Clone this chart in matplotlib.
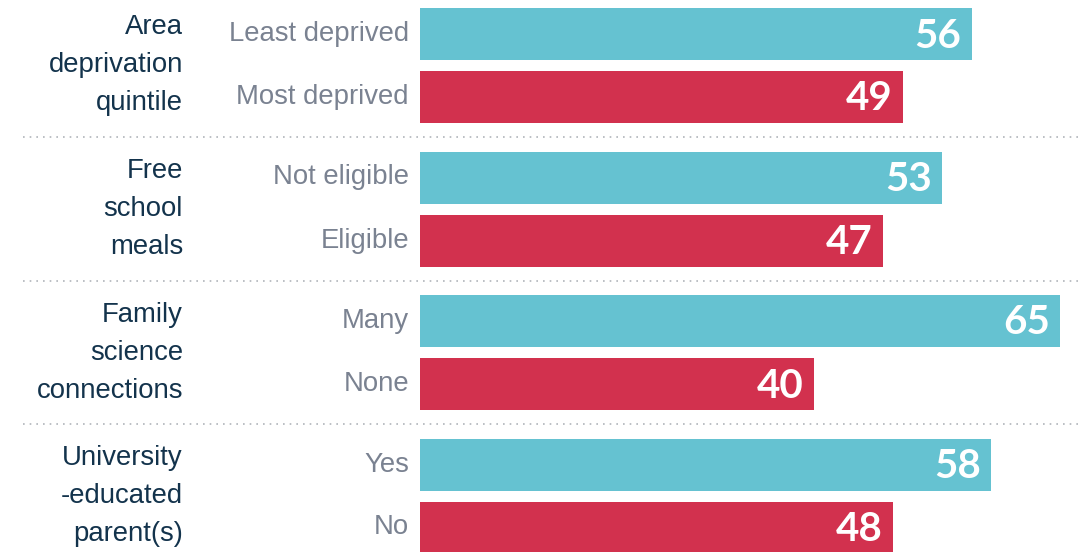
import matplotlib
matplotlib.use("Agg")
import matplotlib.pyplot as plt

groups = ["Area\ndeprivation\nquintile", "Free\nschool\nmeals",
          "Family\nscience\nconnections", "University\n-educated\nparent(s)"]
top_labels = ["Least deprived", "Not eligible", "Many", "Yes"]
bottom_labels = ["Most deprived", "Eligible", "None", "No"]
top_values = [56, 53, 65, 58]
bottom_values = [49, 47, 40, 48]

teal = "#65C2D1"
red = "#D2314E"
navy = "#13334C"
grey = "#7A8291"

W, H = 1081, 552
px = 9.85          # pixels per unit
x0 = 420           # pixel where zero sits
fig = plt.figure(figsize=(W / 100, H / 100), dpi=100)
ax = fig.add_axes([0, 0, 1, 1])
ax.set_xlim(-x0 / px, (W - x0) / px)
ax.set_ylim(H, 0)
ax.axis("off")

spacing = 143.5
first = 65.5
offset = 31.5
bar_h = 52

for g in range(len(groups)):
    c = first + spacing * g
    y_top = c - offset
    y_bot = c + offset
    ax.barh(y_top, top_values[g], height=bar_h, color=teal)
    ax.barh(y_bot, bottom_values[g], height=bar_h, color=red)

    for y, v in [(y_top, top_values[g]), (y_bot, bottom_values[g])]:
        ax.text(v - 10 / px, y + 2, str(v), color="white", fontsize=29,
                fontweight="bold", family="Lato", ha="right", va="center")

    ax.text((409 - x0) / px, y_top, top_labels[g], color=grey, fontsize=19.8,
            family="Liberation Sans", ha="right", va="center")
    ax.text((409 - x0) / px, y_bot, bottom_labels[g], color=grey, fontsize=19.8,
            family="Liberation Sans", ha="right", va="center")
    ax.text((183 - x0) / px, c, groups[g], color=navy, fontsize=19.8,
            family="Liberation Sans", ha="right", va="center",
            multialignment="right", linespacing=1.6)

    if g < len(groups) - 1:
        ax.plot([(23 - x0) / px, (W - x0) / px], [c + spacing / 2] * 2,
                color="#B0B4BA", linewidth=1.2, linestyle=(0, (1, 3)))

fig.savefig("out.png", dpi=100)
